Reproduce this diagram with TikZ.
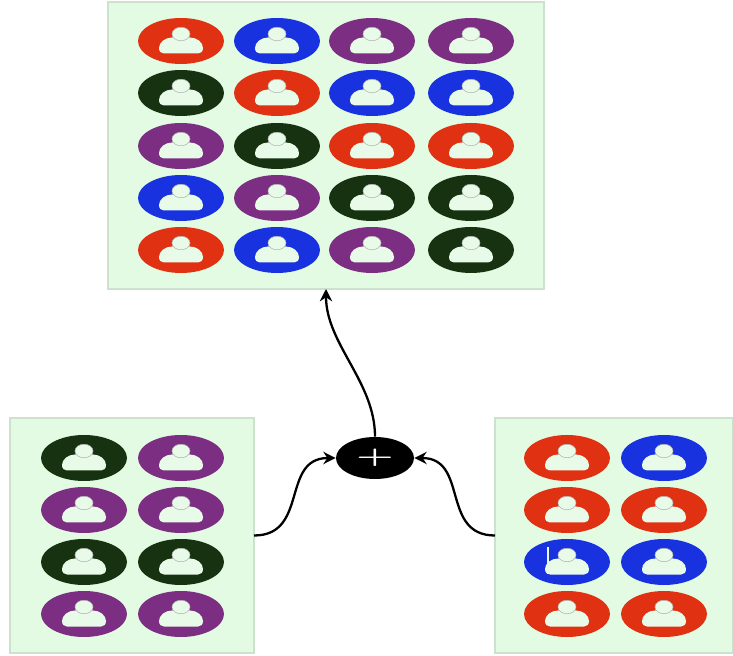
\documentclass[tikz,border=0pt]{standalone}
\definecolor{panelgreen}{RGB}{226, 251, 226}
\definecolor{paneledge}{RGB}{205, 226, 205}
\definecolor{iconwhite}{RGB}{232, 250, 232}
\definecolor{red1}{RGB}{224, 50, 18}
\definecolor{blue1}{RGB}{24, 50, 224}
\definecolor{purple1}{RGB}{124, 46, 130}
\definecolor{dark1}{RGB}{22, 50, 16}
\usepackage{tikz}
\usetikzlibrary{shapes.geometric, arrows.meta, positioning}
\tikzset{
  panel/.style={draw=paneledge, fill=panelgreen, line width=1pt, inner sep=0pt, outer sep=0pt},
  avatar/.style={ellipse, fill=#1, minimum width=1.72cm, minimum height=0.92cm, inner sep=0pt},
  link/.style={line width=1.3pt, -{Stealth[length=7pt, width=7pt]}},
  pics/person/.style={code={
    \fill[iconwhite] (-0.34,-0.25) -- (0.34,-0.25) .. controls (0.4,-0.25) and (0.44,-0.21) .. (0.44,-0.14)
      .. controls (0.44,-0.03) and (0.32,0.07) .. (0.18,0.07) -- (-0.18,0.07)
      .. controls (-0.32,0.07) and (-0.44,-0.03) .. (-0.44,-0.14) .. controls (-0.44,-0.21) and (-0.4,-0.25) .. (-0.34,-0.25) -- cycle;
    \draw[fill=iconwhite, draw=black!30, line width=0.3pt] (0,0.14) ellipse (0.18 and 0.135);
  }}
}
\begin{document}
\begin{tikzpicture}
  \useasboundingbox (0,0) rectangle (14.66,13.1);

  % Panels
  \node[panel, minimum width=8.72cm, minimum height=5.74cm] (toppanel) at (6.52, 10.19) {};
  \node[panel, minimum width=4.88cm, minimum height=4.7cm] (leftpanel) at (2.64, 2.39) {};
  \node[panel, minimum width=4.76cm, minimum height=4.7cm] (rightpanel) at (12.28, 2.39) {};

  % Merged group
  \foreach \y/\ca/\cb/\cc/\cd [count=\r] in {12.28/red1/blue1/purple1/purple1, 11.24/dark1/red1/blue1/blue1, 10.18/purple1/dark1/red1/red1, 9.14/blue1/purple1/dark1/dark1, 8.10/red1/blue1/purple1/dark1} {
    \foreach \x/\cl [count=\k] in {3.62/\ca, 5.54/\cb, 7.44/\cc, 9.42/\cd} {
      \node[avatar=\cl] (top\r\k) at (\x, \y) {};
      \pic at (top\r\k) {person};
    }
  }

  % Left group
  \foreach \y/\ca/\cb [count=\r] in {3.94/dark1/purple1, 2.9/purple1/purple1, 1.86/dark1/dark1, 0.82/purple1/purple1} {
    \foreach \x/\cl [count=\k] in {1.68/\ca, 3.62/\cb} {
      \node[avatar=\cl] (left\r\k) at (\x, \y) {};
      \pic at (left\r\k) {person};
    }
  }

  % Right group
  \foreach \y/\ca/\cb [count=\r] in {3.94/red1/blue1, 2.9/red1/red1, 1.86/blue1/blue1, 0.82/red1/red1} {
    \foreach \x/\cl [count=\k] in {11.34/\ca, 13.28/\cb} {
      \node[avatar=\cl] (right\r\k) at (\x, \y) {};
      \pic at (right\r\k) {person};
    }
  }
  \draw[iconwhite, line width=0.6pt] ([xshift=-0.38cm, yshift=0.3cm]right31.center) -- ([xshift=-0.38cm, yshift=-0.24cm]right31.center);

  % Merge node
  \node[ellipse, fill=black, text=white, minimum width=1.56cm, minimum height=0.84cm, inner sep=0pt, font=\bfseries] (plus) at (7.5, 3.94) {\scalebox{2.4}[1.3]{+}};

  % Connectors
  \draw[link] (leftpanel.east) to[out=0, in=180, looseness=1.25] (plus.west);
  \draw[link] (rightpanel.west) to[out=180, in=0, looseness=1.25] (plus.east);
  \draw[link] (plus.north) to[out=90, in=-90, looseness=0.9] (toppanel.south);
\end{tikzpicture}
\end{document}
